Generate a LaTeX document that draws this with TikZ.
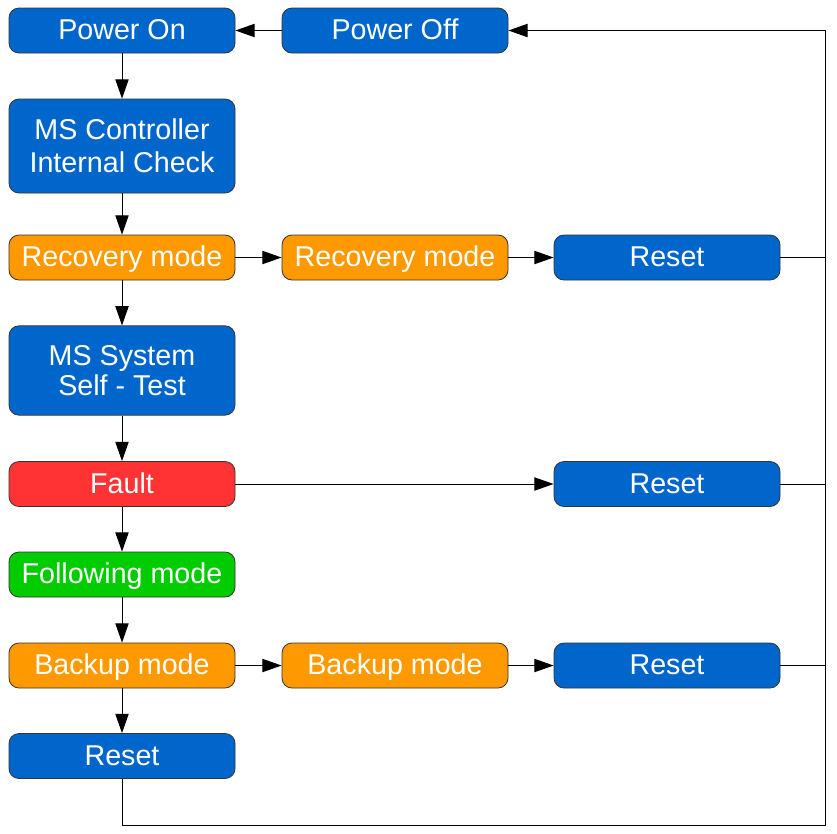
\documentclass[tikz,border=0pt]{standalone}
\usepackage{fontspec}
\setmainfont{Liberation Sans}
\usetikzlibrary{arrows.meta}
\definecolor{cblue}{HTML}{0066CC}
\definecolor{corange}{HTML}{FF9900}
\definecolor{cred}{HTML}{FF3333}
\definecolor{cgreen}{HTML}{00CC00}
\definecolor{cborder}{HTML}{333333}
\tikzset{
  box/.style={draw=cborder, line width=0.6pt, rounded corners=7.5pt, minimum width=169.5pt, text=white, font=\fontsize{21.5}{22.5}\selectfont, inner sep=0pt},
  short/.style={box, minimum height=33.75pt, text height=18.3pt, text depth=4.5pt},
  tall/.style={box, align=center},
  arr/.style={line width=0.75pt, -{Triangle[length=14.5pt,width=10pt]}},
  ln/.style={line width=0.75pt}
}
\begin{document}
\begin{tikzpicture}[x=0.75pt,y=-0.75pt]
\useasboundingbox (0,0) rectangle (837,833);
\node[short, fill=cblue] (pon) at (122,30.5) {Power On};
\node[short, fill=cblue] (poff) at (395,30.5) {Power Off};
\node[tall, fill=cblue, minimum height=70.5pt, font=\fontsize{21.5}{24.5}\selectfont] (msc) at (122,146) {MS Controller\\Internal Check};
\node[short, fill=corange] (rec1) at (122,257.5) {Recovery mode};
\node[short, fill=corange] (rec2) at (395,257.5) {Recovery mode};
\node[short, fill=cblue] (res1) at (667,257.5) {Reset};
\node[tall, fill=cblue, minimum height=67pt] (mss) at (122,370.5) {MS System\\Self - Test};
\node[short, fill=cred] (fault) at (122,484) {Fault};
\node[short, fill=cblue] (res2) at (667,484) {Reset};
\node[short, fill=cgreen] (follow) at (122,574.5) {Following mode};
\node[short, fill=corange] (bak1) at (122,665.5) {Backup mode};
\node[short, fill=corange] (bak2) at (395,665.5) {Backup mode};
\node[short, fill=cblue] (res3) at (667,665.5) {Reset};
\node[short, fill=cblue] (res4) at (122,756) {Reset};
\coordinate (br) at (825,825);
\coordinate (tr) at (825,30.5);
\draw[arr] (poff) -- (pon);
\draw[arr] (pon) -- (msc);
\draw[arr] (msc) -- (rec1);
\draw[arr] (rec1) -- (rec2);
\draw[arr] (rec2) -- (res1);
\draw[arr] (rec1) -- (mss);
\draw[arr] (mss) -- (fault);
\draw[arr] (fault) -- (res2);
\draw[arr] (fault) -- (follow);
\draw[arr] (follow) -- (bak1);
\draw[arr] (bak1) -- (bak2);
\draw[arr] (bak2) -- (res3);
\draw[arr] (bak1) -- (res4);
\draw[ln] (res1.east) -- (res1.east -| br);
\draw[ln] (res2.east) -- (res2.east -| br);
\draw[ln] (res3.east) -- (res3.east -| br);
\draw[arr] (res4.south) |- (br) -- (tr) -- (poff.east);
\end{tikzpicture}
\end{document}
